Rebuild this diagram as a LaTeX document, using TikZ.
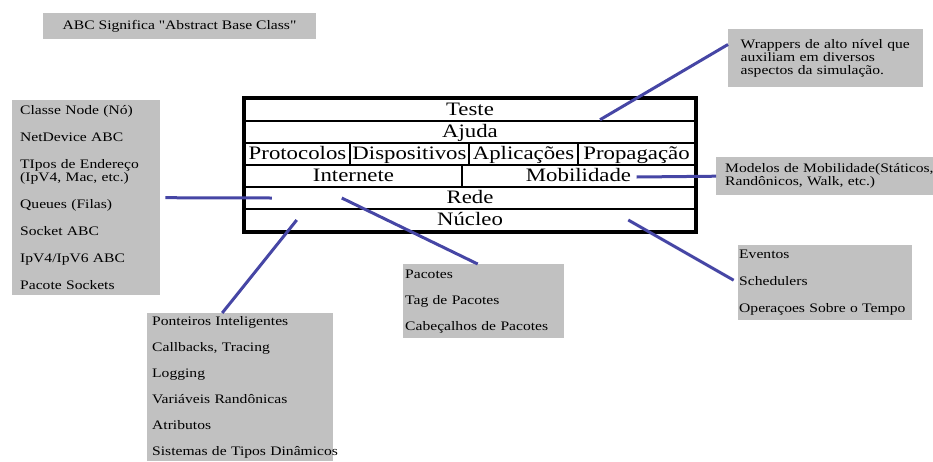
\documentclass[tikz,border=0pt]{standalone}
\usepackage{fontspec}
\setmainfont{Liberation Serif}[FakeStretch=1.2,Ligatures=TeXOff]
\usetikzlibrary{calc}
\definecolor{cinza}{RGB}{193,193,193}
\definecolor{azul}{RGB}{70,70,165}

\begin{document}
\begin{tikzpicture}[x=1pt,y=-1pt]
	\tikzstyle{camada}=[draw,line width=2.5pt,inner sep=0pt,minimum height=22pt,text height=14pt,text depth=3pt,font=\fontsize{19}{21}\selectfont]
	\tikzstyle{caixa}=[fill=cinza,anchor=north west,align=left,inner ysep=0pt,font=\fontsize{13}{13}\selectfont]
	\tikzstyle{ligacao}=[azul,line width=3pt]
	\useasboundingbox (0,0) rectangle (933,461);
	\node[camada,minimum width=450pt] (teste) at (470,110) {Teste};
	\node[camada,minimum width=450pt] (ajuda) at (470,132) {Ajuda};
	\node[camada,minimum width=105pt] (protocolos) at (297.5,154) {Protocolos};
	\node[camada,minimum width=119pt] (dispositivos) at (409.5,154) {Dispositivos};
	\node[camada,minimum width=109pt] (aplicacoes) at (523.5,154) {Aplicações};
	\node[camada,minimum width=117pt] (propagacao) at (636.5,154) {Propagação};
	\node[camada,minimum width=217pt] (internete) at (353.5,176) {Internete};
	\node[camada,minimum width=233pt] (mobilidade) at (578.5,176) {Mobilidade};
	\node[camada,minimum width=450pt] (rede) at (470,198) {Rede};
	\node[camada,minimum width=450pt] (nucleo) at (470,220) {Núcleo};
	\draw[line width=3.5pt] (teste.north west) rectangle (nucleo.south east);

	\node[caixa,anchor=center,minimum width=273pt,minimum height=26pt] (abc) at (179.5,26) {ABC Significa "Abstract Base Class"};
	\node[caixa,inner xsep=8pt,text width=132pt,minimum height=195pt] (esq) at (12,100) {Classe Node (Nó)\\[14pt] NetDevice ABC\\[14pt] TIpos de Endereço\\(IpV4, Mac, etc.)\\[14pt] Queues (Filas)\\[14pt] Socket ABC\\[14pt] IpV4/IpV6 ABC\\[14pt] Pacote Sockets};
	\node[caixa,inner xsep=5pt,text width=176pt,minimum height=148pt] (util) at (147,313) {Ponteiros Inteligentes\\[13pt] Callbacks, Tracing\\[13pt] Logging\\[13pt] Variáveis Randônicas\\[13pt] Atributos\\[13pt] \mbox{Sistemas de Tipos Dinâmicos}};
	\node[caixa,inner xsep=2pt,text width=157pt,minimum height=74pt] (pacotes) at (403,264) {Pacotes\\[13pt] Tag de Pacotes\\[13pt] Cabeçalhos de Pacotes};
	\node[caixa,inner xsep=9pt,text width=210pt,minimum height=38pt] (modelos) at (716,157) {Modelos de Mobilidade(Státicos,\\Randônicos, Walk, etc.)};
	\node[caixa,inner xsep=1pt,text width=172pt,minimum height=75pt] (eventos) at (738,245) {Eventos\\[14pt] Schedulers\\[14pt] Operaçoes Sobre o Tempo};
	\node[caixa,inner xsep=12.5pt,text width=170pt,minimum height=58pt] (wrappers) at (728,29) {Wrappers de alto nível que\\auxiliam em diversos\\aspectos da simulação.};

	\draw[ligacao] ($(ajuda.north)+(130,0)$) -- (wrappers.172);
	\draw[ligacao] ($(mobilidade.center)+(58,1)$) -- (modelos.west);
	\draw[ligacao,shorten >=5pt] ($(rede.west)+(28,0)$) -- (esq.east);
	\draw[ligacao] ($(rede.west)+(98,0)$) -- ($(pacotes.north)+(-6,0)$);
	\draw[ligacao] ($(nucleo.west)+(53,0)$) -- ($(util.north)+(-18,0)$);
	\draw[ligacao,shorten >=5pt] ($(nucleo.east)+(-68,0)$) -- (eventos.west);
\end{tikzpicture}
\end{document}
